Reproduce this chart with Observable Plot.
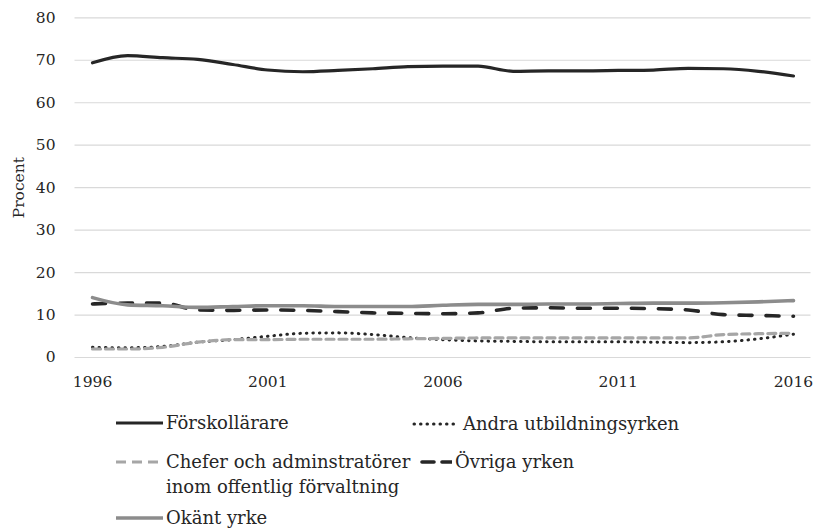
<!DOCTYPE html>
<html><head><meta charset="utf-8">
<script src="https://cdn.jsdelivr.net/npm/d3@7"></script>
<script src="https://cdn.jsdelivr.net/npm/@observablehq/plot@0.6"></script>
<style>
body{margin:0;background:#fff;font-family:"DejaVu Serif",serif;}
#wrap{position:relative;width:815px;height:532px;overflow:hidden}
.leg{position:absolute;font-size:18px;color:#262626;line-height:25px;white-space:nowrap}
.sw{position:absolute}
</style></head><body><div id="wrap"></div>
<script>
const years = [1996,1997,1998,1999,2000,2001,2002,2003,2004,2005,2006,2007,2008,2009,2010,2011,2012,2013,2014,2015,2016];
const forskollarare = [69.4,71.1,70.6,70.2,69.0,67.7,67.3,67.6,68.0,68.5,68.6,68.6,67.4,67.5,67.5,67.6,67.7,68.1,68.0,67.4,66.3];
const andraUtbildningsyrken = [2.4,2.3,2.6,3.6,4.2,5.0,5.7,5.8,5.4,4.7,4.2,3.9,3.8,3.7,3.7,3.7,3.6,3.5,3.7,4.4,5.5];
const cheferAdm = [2.0,2.0,2.4,3.6,4.2,4.2,4.3,4.3,4.3,4.4,4.5,4.6,4.6,4.6,4.6,4.6,4.6,4.6,5.4,5.6,5.7];
const ovrigaYrken = [12.6,12.8,12.8,11.2,11.1,11.2,11.1,10.8,10.5,10.4,10.3,10.5,11.6,11.7,11.6,11.6,11.5,11.2,10.1,9.9,9.7];
const okantYrke = [14.1,12.4,12.2,11.8,12.0,12.2,12.2,12.0,12.0,12.0,12.3,12.5,12.5,12.6,12.6,12.7,12.8,12.8,12.9,13.1,13.4];
const xTicks = [1996,2001,2006,2011,2016];
const yTicks = [0,10,20,30,40,50,60,70,80];
const yLabel = "Procent";

const seriesNames = ["Förskollärare","Andra utbildningsyrken","Chefer och adminstratörer\ninom offentlig förvaltning","Övriga yrken","Okänt yrke"];
const seriesValues = [forskollarare, andraUtbildningsyrken, cheferAdm, ovrigaYrken, okantYrke];

const styles = [
  {stroke:"#262626", strokeWidth:3.2},
  {stroke:"#262626", strokeWidth:3, strokeDasharray:"0.5,6", strokeLinecap:"round"},
  {stroke:"#a6a6a6", strokeWidth:3.2, strokeDasharray:"8,5"},
  {stroke:"#262626", strokeWidth:3.6, strokeDasharray:"13,14", strokeLinecap:"round"},
  {stroke:"#8c8c8c", strokeWidth:3.6}
];

const rows = seriesNames.map((name,k)=>seriesValues[k].map((v,i)=>({year:years[i], value:v, name})));

const chart = Plot.plot({
  width: 815,
  height: 400,
  marginLeft: 74.5,
  marginRight: 4.5,
  marginTop: 17.3,
  marginBottom: 43,
  x: {domain:[1995.5,2016.5]},
  y: {domain:[0,80]},
  style: {fontFamily:"DejaVu Serif", fontSize:"15.5px", color:"#262626", background:"#fff"},
  marks: [
    Plot.ruleY(yTicks, {x1:1995.5, x2:2016.5, stroke:"#d9d9d9", strokeWidth:1.2}),
    ...rows.map((r,k)=>Plot.line(r, {x:"year", y:"value", curve:"monotone-x", strokeLinejoin:"round", ...styles[k]})),
    Plot.axisX(xTicks, {tickSize:0, tickPadding:18, tickFormat:d=>String(d), label:null}),
    Plot.axisY(yTicks, {tickSize:0, tickPadding:19.5, label:yLabel, labelAnchor:"center", labelArrow:"none", labelOffset:62})
  ]
});
const wrap = document.getElementById("wrap");
wrap.appendChild(chart);

// legend
const legPos = [
  {sx:116, sw:47, tx:166, cy:423},
  {sx:412, sw:45, tx:463, cy:424},
  {sx:116, sw:47, tx:166, cy:462},
  {sx:420, sw:32, tx:455, cy:462},
  {sx:116, sw:47, tx:166, cy:518}
];
const legDash = [null, "0.5,6", "10,6", "12,8", null];
seriesNames.forEach((name,k)=>{
  const p = legPos[k], s = styles[k];
  const svg = d3.create("svg").attr("class","sw").attr("width",p.sw).attr("height",10)
    .style("left",p.sx+"px").style("top",(p.cy-5)+"px");
  svg.append("line").attr("x1", s.strokeLinecap==="round"?2:0).attr("x2", p.sw).attr("y1",5).attr("y2",5)
    .attr("stroke",s.stroke).attr("stroke-width",s.strokeWidth)
    .attr("stroke-dasharray",legDash[k]).attr("stroke-linecap",s.strokeLinecap||"butt");
  wrap.appendChild(svg.node());
  const div = document.createElement("div");
  div.className="leg";
  div.style.left=p.tx+"px";
  div.style.top=(p.cy-13)+"px";
  div.innerHTML = name.split("\n").join("<br>");
  wrap.appendChild(div);
});
</script></body></html>
